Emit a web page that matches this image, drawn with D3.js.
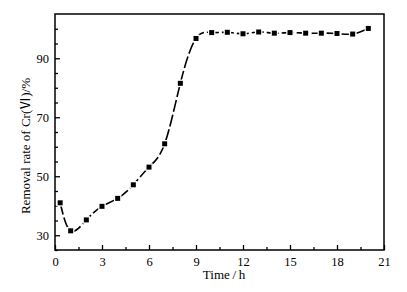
<!DOCTYPE html>
<html>
<head>
<meta charset="utf-8">
<script src="https://cdn.jsdelivr.net/npm/d3@7"></script>
<style>
  body { margin: 0; background: #fff; }
  svg { display: block; font-family: 'Liberation Serif', 'Noto Sans CJK SC', serif; }
</style>
</head>
<body>
<svg width="407" height="292"></svg>
<script>
// time (h) and removal rate (%)
const times = [0.33, 1, 2, 3, 4, 5, 6, 7, 8, 9, 10, 11, 12, 13, 14, 15, 16, 17, 18, 19, 20];
const removal = [41, 31.5, 35.2, 39.8, 42.5, 47.1, 53.1, 61, 81.5, 96.7, 98.7, 98.8, 98.3, 98.9, 98.5, 98.7, 98.5, 98.5, 98.4, 98.2, 100.1];
const xTicks = [0, 3, 6, 9, 12, 15, 18, 21];
const yTicks = [30, 50, 70, 90];

const margens = { left: 55, right: 23, top: 14, bottom: 42 };
const svg = d3.select('svg');
const width = +svg.attr('width') - margens.left - margens.right;
const height = +svg.attr('height') - margens.top - margens.bottom;
const g = svg.append('g').attr('transform', `translate(${margens.left}, ${margens.top})`);

const data = times.map((t, i) => ({ t, v: removal[i] }));

const mapX = d3.scaleLinear().domain([0, 21]).range([0, width]);
const mapY = d3.scaleLinear().domain([25, 105]).range([height, 0]);

// minor ticks (inward, no labels)
g.append('g')
    .attr('transform', `translate(0, ${height})`)
    .call(d3.axisBottom(mapX).tickValues(d3.range(1.5, 21, 3)).tickSize(-3).tickFormat(''))
    .call(a => a.select('.domain').remove());
g.append('g')
    .call(d3.axisLeft(mapY).tickValues(d3.range(25, 105, 5).filter(v => !yTicks.includes(v))).tickSize(-3).tickFormat(''))
    .call(a => a.select('.domain').remove());

// major ticks
const xAxis = g.append('g')
    .attr('transform', `translate(0, ${height})`)
    .call(d3.axisBottom(mapX).tickValues(xTicks).tickSize(-5).tickPadding(7))
    .attr('font-family', null)
    .attr('font-size', 12.5);
xAxis.select('.domain').remove();
xAxis.selectAll('text').attr('fill', '#000');

const yAxis = g.append('g')
    .call(d3.axisLeft(mapY).tickValues(yTicks).tickSize(-5).tickPadding(6))
    .attr('font-family', null)
    .attr('font-size', 12.5);
yAxis.select('.domain').remove();
yAxis.selectAll('text').attr('fill', '#000');

g.selectAll('.tick line').attr('stroke', '#000').attr('stroke-width', 1.3);

// frame
g.append('rect')
    .attr('width', width)
    .attr('height', height)
    .attr('fill', 'none')
    .attr('stroke', '#000')
    .attr('stroke-width', 1.5);

// curve
const line = d3.line()
    .x(d => mapX(d.t))
    .y(d => mapY(d.v))
    .curve(d3.curveNatural);

g.append('path')
    .datum(data)
    .attr('d', line)
    .attr('fill', 'none')
    .attr('stroke', '#000')
    .attr('stroke-width', 1.6)
    .attr('stroke-dasharray', '12,3');

// markers with small gap to the line
g.append('g').selectAll('rect')
    .data(data)
    .join('rect')
    .attr('x', d => mapX(d.t) - 2.5)
    .attr('y', d => mapY(d.v) - 2.5)
    .attr('width', 5)
    .attr('height', 5)
    .attr('fill', '#000')
    .attr('stroke', '#fff')
    .attr('stroke-width', 2.5)
    .attr('paint-order', 'stroke');

// titles
svg.append('text')
    .attr('x', 224)
    .attr('y', 279)
    .attr('text-anchor', 'middle')
    .attr('font-size', 13)
    .text('Time\u2009/\u2009h');

svg.append('text')
    .attr('transform', `translate(30, ${margens.top + height / 2 + 14}) rotate(-90)`)
    .attr('text-anchor', 'middle')
    .attr('font-size', 13)
    .text('Removal rate of Cr(Ⅵ)/%');
</script>
</body>
</html>
